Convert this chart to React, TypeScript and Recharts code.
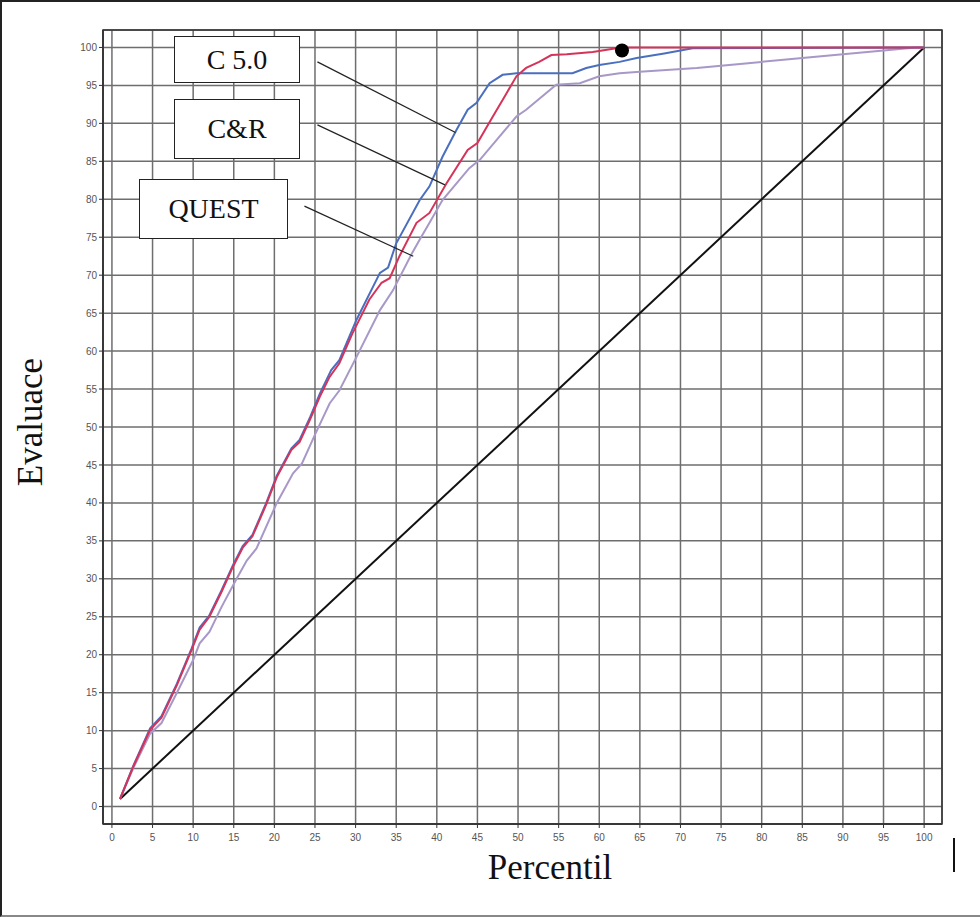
import React from 'react';
import {
  LineChart,
  Line,
  XAxis,
  YAxis,
  CartesianGrid,
  ReferenceArea,
  ReferenceLine,
  ReferenceDot,
} from 'recharts';

// percentile (x) and cumulative evaluation (y) for each model
const c50X = [1, 2.6, 4.7, 6.1, 8, 9.8, 10.8, 12, 13.5, 14.9, 16.1, 17.3, 19, 20.3, 22.1, 23.1, 24.4, 25.6, 27, 28, 30.1, 33, 34, 35, 37.9, 39.1, 40.7, 42.4, 43.8, 44.9, 46.5, 48.1, 49.8, 56.7, 58.4, 60, 62.5, 64.6, 68, 71.5, 100];
const c50Y = [1, 5.3, 10.3, 11.9, 16.2, 20.8, 23.6, 25.2, 28.5, 31.8, 34.3, 35.8, 40, 43.6, 47.2, 48.3, 51.3, 54.4, 57.5, 58.8, 64.1, 70.3, 71, 74.2, 79.9, 81.7, 85.6, 89.1, 91.8, 92.7, 95.3, 96.4, 96.6, 96.6, 97.3, 97.7, 98.1, 98.6, 99.2, 99.9, 100];

const crX = [1, 2.6, 4.7, 6.1, 8, 9.8, 10.8, 12, 13.5, 14.9, 16.1, 17.3, 19, 20.3, 22.1, 23.1, 24.4, 25.6, 26.8, 28, 29.6, 31.7, 33.2, 34.2, 35.4, 37.5, 39.1, 41.2, 43.8, 45, 46.9, 48.5, 49.8, 51, 52.6, 54.1, 56, 59.2, 62.1, 63, 100];
const crY = [1, 5.2, 10.1, 11.7, 16, 20.6, 23.3, 25, 28.3, 31.6, 34.1, 35.6, 39.8, 43.4, 47, 48, 51, 54, 56.6, 58.4, 62.3, 66.8, 69, 69.6, 72.5, 76.9, 78.2, 82.1, 86.5, 87.4, 90.9, 93.8, 96.2, 97.3, 98.1, 99, 99.1, 99.4, 99.9, 100, 100];

const questX = [1, 2.6, 4.7, 6.1, 8, 10, 10.8, 12, 13.5, 15.3, 16.6, 17.8, 20.3, 22.3, 23.4, 25, 26.8, 28, 30.1, 33, 34.6, 37, 37.9, 39.1, 40.7, 44, 45.3, 47.5, 49.8, 51, 54.7, 57.6, 60, 62.5, 65, 72, 78, 85, 90, 95, 99, 100];
const questY = [1, 5, 9.6, 11, 15, 19.3, 21.5, 23, 26.3, 29.9, 32.4, 34, 40, 43.9, 45.2, 49, 53.1, 54.8, 59.2, 65.4, 68, 73, 74.7, 76.9, 79.9, 84.1, 85.2, 88, 90.9, 91.8, 95.1, 95.3, 96.2, 96.6, 96.8, 97.3, 97.9, 98.6, 99.1, 99.6, 100, 100];

const baseX = [1, 100];
const baseY = [1, 100];

const ticks = [0, 5, 10, 15, 20, 25, 30, 35, 40, 45, 50, 55, 60, 65, 70, 75, 80, 85, 90, 95, 100];

const optimum = { x: 62.8, y: 99.6 };

const toPoints = (xs: number[], ys: number[]) => xs.map((x, i) => ({ x, y: ys[i] }));

const xDomain: [number, number] = [-1.1, 102.2];
const yDomain: [number, number] = [-2.3, 102.3];

// leader lines from the boxes to the curves (data coords)
const leaders = [
  { from: { x: 25.3, y: 98.1 }, to: { x: 42.3, y: 88.8 } },
  { from: { x: 25.3, y: 89.8 }, to: { x: 41, y: 81.9 } },
  { from: { x: 23.7, y: 79.1 }, to: { x: 37.1, y: 72.5 } },
];

const boxes = [
  { text: 'C 5.0', left: 174, top: 36, width: 126, height: 47 },
  { text: 'C&R', left: 174, top: 99, width: 126, height: 60 },
  { text: 'QUEST', left: 139, top: 179, width: 149, height: 60 },
];

const serif = '"Liberation Serif", "Times New Roman", serif';

const tickStyle = { fontSize: 10, fill: '#555', fontFamily: '"Liberation Sans", Arial, sans-serif' };

export default function App() {
  return (
    <div style={{ position: 'relative', width: 980, height: 917, background: '#fff', overflow: 'hidden' }}>
      <style>{'body{margin:0}'}</style>
      <LineChart width={980} height={917} margin={{ top: 30, right: 38, left: 43, bottom: 53 }}>
        <CartesianGrid stroke="#6e6e6e" strokeWidth={1.5} />
        <XAxis
          type="number"
          dataKey="x"
          domain={xDomain}
          ticks={ticks}
          allowDataOverflow
          height={40}
          tick={tickStyle}
          tickSize={4}
          tickMargin={6}
          tickLine={{ stroke: '#333' }}
          axisLine={{ stroke: '#333', strokeWidth: 1.5 }}
        />
        <YAxis
          type="number"
          dataKey="y"
          domain={yDomain}
          ticks={ticks}
          allowDataOverflow
          width={60}
          tick={tickStyle}
          tickSize={4}
          tickMargin={2}
          tickLine={{ stroke: '#333' }}
          axisLine={{ stroke: '#333', strokeWidth: 1.5 }}
        />
        <ReferenceArea
          x1={xDomain[0]}
          x2={xDomain[1]}
          y1={yDomain[0]}
          y2={yDomain[1]}
          fill="none"
          stroke="#333"
          strokeWidth={1.5}
          ifOverflow="visible"
        />
        <Line data={toPoints(baseX, baseY)} dataKey="y" stroke="#111" strokeWidth={2} dot={false} isAnimationActive={false} />
        <Line data={toPoints(questX, questY)} dataKey="y" stroke="#a898c8" strokeWidth={2} dot={false} isAnimationActive={false} />
        <Line data={toPoints(c50X, c50Y)} dataKey="y" stroke="#4a6fbf" strokeWidth={2} dot={false} isAnimationActive={false} />
        <Line data={toPoints(crX, crY)} dataKey="y" stroke="#d6335a" strokeWidth={2} dot={false} isAnimationActive={false} />
        {leaders.map((l, i) => (
          <ReferenceLine
            key={i}
            segment={[l.from, l.to]}
            stroke="#222"
            strokeWidth={1.2}
            ifOverflow="visible"
          />
        ))}
        <ReferenceDot x={optimum.x} y={optimum.y} r={7} fill="#000" stroke="none" />
      </LineChart>

      {boxes.map((b) => (
        <div
          key={b.text}
          style={{
            position: 'absolute',
            left: b.left,
            top: b.top,
            width: b.width,
            height: b.height,
            boxSizing: 'border-box',
            border: '1.5px solid #222',
            background: '#fff',
            display: 'flex',
            alignItems: 'center',
            justifyContent: 'center',
            fontFamily: serif,
            fontSize: 28,
            color: '#111',
          }}
        >
          {b.text}
        </div>
      ))}

      <div
        style={{
          position: 'absolute',
          left: 31,
          top: 422,
          transform: 'translate(-50%, -50%) rotate(-90deg)',
          fontFamily: serif,
          fontSize: 35,
          color: '#111',
          whiteSpace: 'nowrap',
        }}
      >
        Evaluace
      </div>
      <div
        style={{
          position: 'absolute',
          left: 550,
          top: 848,
          transform: 'translateX(-50%)',
          fontFamily: serif,
          fontSize: 35,
          color: '#111',
          whiteSpace: 'nowrap',
        }}
      >
        Percentil
      </div>
      <div style={{ position: 'absolute', left: 953, top: 838, width: 2, height: 34, background: '#111' }} />

      <div
        style={{
          position: 'absolute',
          inset: 0,
          borderTop: '2px solid #222',
          borderLeft: '2px solid #222',
          borderBottom: '2px solid #888',
          pointerEvents: 'none',
        }}
      />
    </div>
  );
}
